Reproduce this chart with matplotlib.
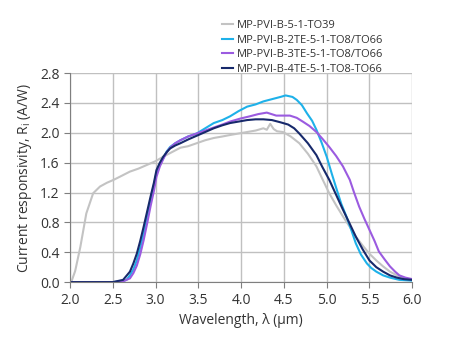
import matplotlib
matplotlib.use('Agg')
import matplotlib.pyplot as plt

plt.rcParams['font.family'] = ['Open Sans', 'DejaVu Sans']

# wavelength (um) / responsivity (A/W)
wl_to39 = [2.0, 2.02, 2.06, 2.12, 2.19, 2.27, 2.35, 2.43, 2.51, 2.58, 2.70, 2.80, 2.90, 3.00,
           3.09, 3.19, 3.29, 3.38, 3.48, 3.58, 3.68, 3.78, 3.87, 3.97, 4.07, 4.17, 4.26,
           4.30, 4.34, 4.38, 4.42, 4.49, 4.58, 4.68, 4.78, 4.88, 4.95, 5.03, 5.11, 5.19,
           5.27, 5.34, 5.42, 5.50, 5.58, 5.66, 5.74, 5.82, 5.90, 6.0]
r_to39 = [0.0, 0.02, 0.15, 0.47, 0.92, 1.19, 1.28, 1.33, 1.37, 1.41, 1.48, 1.52, 1.57, 1.62,
          1.68, 1.74, 1.80, 1.82, 1.86, 1.90, 1.93, 1.95, 1.97, 1.99, 2.01, 2.03, 2.06,
          2.04, 2.12, 2.05, 2.02, 2.01, 1.95, 1.86, 1.72, 1.55, 1.38, 1.19, 1.03, 0.88,
          0.74, 0.61, 0.49, 0.38, 0.29, 0.21, 0.14, 0.09, 0.05, 0.03]

wl_2te = [2.0, 2.5, 2.60, 2.66, 2.70, 2.74, 2.78, 2.82, 2.86, 2.90, 2.94, 2.98, 3.01, 3.05,
          3.09, 3.13, 3.17, 3.23, 3.29, 3.38, 3.48, 3.58, 3.68, 3.78, 3.87, 3.97, 4.07,
          4.17, 4.26, 4.36, 4.46, 4.52, 4.60, 4.65, 4.71, 4.77, 4.83, 4.88, 4.94, 5.00,
          5.06, 5.12, 5.17, 5.23, 5.29, 5.34, 5.40, 5.47, 5.52, 5.58, 5.66, 5.74, 5.85, 6.0]
r_2te = [0.0, 0.0, 0.01, 0.03, 0.09, 0.17, 0.29, 0.46, 0.65, 0.88, 1.10, 1.30, 1.46, 1.57,
         1.66, 1.75, 1.81, 1.86, 1.90, 1.95, 1.99, 2.06, 2.13, 2.17, 2.22, 2.29, 2.35,
         2.38, 2.42, 2.45, 2.48, 2.50, 2.48, 2.44, 2.37, 2.26, 2.16, 2.04, 1.87, 1.68,
         1.45, 1.23, 1.05, 0.88, 0.69, 0.52, 0.37, 0.25, 0.19, 0.14, 0.09, 0.06, 0.03, 0.02]

wl_3te = [2.0, 2.5, 2.62, 2.70, 2.74, 2.78, 2.82, 2.86, 2.90, 2.94, 2.98, 3.01, 3.05, 3.09,
          3.13, 3.17, 3.23, 3.29, 3.38, 3.48, 3.58, 3.68, 3.78, 3.87, 3.99, 4.10, 4.20,
          4.30, 4.41, 4.50, 4.57, 4.65, 4.72, 4.80, 4.88, 4.95, 5.03, 5.11, 5.19, 5.27,
          5.32, 5.38, 5.44, 5.50, 5.56, 5.61, 5.68, 5.74, 5.80, 5.85, 5.92, 6.0]
r_3te = [0.0, 0.0, 0.01, 0.05, 0.12, 0.22, 0.37, 0.56, 0.78, 1.01, 1.22, 1.41, 1.55, 1.65,
         1.74, 1.80, 1.86, 1.90, 1.95, 1.99, 2.03, 2.07, 2.11, 2.15, 2.19, 2.22, 2.25,
         2.27, 2.23, 2.23, 2.23, 2.20, 2.15, 2.09, 2.01, 1.92, 1.81, 1.69, 1.55, 1.37,
         1.20, 1.01, 0.85, 0.70, 0.55, 0.41, 0.30, 0.21, 0.14, 0.09, 0.06, 0.04]

wl_4te = [2.0, 2.5, 2.62, 2.70, 2.74, 2.78, 2.82, 2.86, 2.90, 2.94, 2.98, 3.01, 3.05, 3.09,
          3.13, 3.17, 3.23, 3.29, 3.38, 3.48, 3.58, 3.68, 3.78, 3.87, 3.97, 4.07, 4.17,
          4.26, 4.36, 4.46, 4.55, 4.62, 4.68, 4.78, 4.88, 4.95, 5.03, 5.11, 5.19, 5.27,
          5.34, 5.42, 5.50, 5.58, 5.66, 5.74, 5.82, 5.90, 6.0]
r_4te = [0.0, 0.0, 0.03, 0.14, 0.25, 0.38, 0.55, 0.74, 0.94, 1.14, 1.33, 1.50, 1.60, 1.68,
         1.74, 1.79, 1.83, 1.86, 1.91, 1.96, 2.01, 2.06, 2.10, 2.13, 2.15, 2.17, 2.18,
         2.18, 2.17, 2.14, 2.11, 2.06, 1.99, 1.86, 1.70, 1.54, 1.37, 1.17, 0.97, 0.78,
         0.61, 0.44, 0.29, 0.20, 0.14, 0.09, 0.06, 0.04, 0.03]

labels = ['MP-PVI-B-5-1-TO39', 'MP-PVI-B-2TE-5-1-TO8/TO66',
          'MP-PVI-B-3TE-5-1-TO8/TO66', 'MP-PVI-B-4TE-5-1-TO8-TO66']
colors = ['#c3c3c3', '#1eb1e9', '#9b5be0', '#17296b']

fig = plt.figure(figsize=(4.52, 3.58), dpi=100)
ax = fig.add_axes([0.155, 0.212, 0.757, 0.584])

series = [(wl_to39, r_to39), (wl_2te, r_2te), (wl_3te, r_3te), (wl_4te, r_4te)]
for (x, y), lab, c in zip(series, labels, colors):
    ax.plot(x, y, color=c, lw=1.5, label=lab)

ax.set_xlim(2.0, 6.0)
ax.set_ylim(0.0, 2.8)
ax.set_xticks([2.0, 2.5, 3.0, 3.5, 4.0, 4.5, 5.0, 5.5, 6.0])
ax.set_yticks([0.0, 0.4, 0.8, 1.2, 1.6, 2.0, 2.4, 2.8])
ax.xaxis.set_major_formatter(matplotlib.ticker.FormatStrFormatter('%.1f'))
ax.yaxis.set_major_formatter(matplotlib.ticker.FormatStrFormatter('%.1f'))
ax.grid(True, color='#c0c0c0', lw=1)
ax.set_axisbelow(True)
for s in ['top', 'right']:
    ax.spines[s].set_visible(False)
for s in ['left', 'bottom']:
    ax.spines[s].set_color('#7f7f7f')
ax.tick_params(direction='out', length=4, color='#7f7f7f', labelsize=10, labelcolor='#333333')
ax.set_xlabel('Wavelength, λ (µm)', fontsize=10, color='#333333')
ax.set_ylabel('Current responsivity, R$_\\mathregular{i}$ (A/W)', fontsize=10, color='#333333')

fig.legend(loc='upper left', bbox_to_anchor=(0.478, 0.96), frameon=False, fontsize=8,
           handlelength=1.0, handletextpad=0.4, labelspacing=0.33, borderpad=0,
           labelcolor='#333333')

fig.savefig('out.png', dpi=100)
